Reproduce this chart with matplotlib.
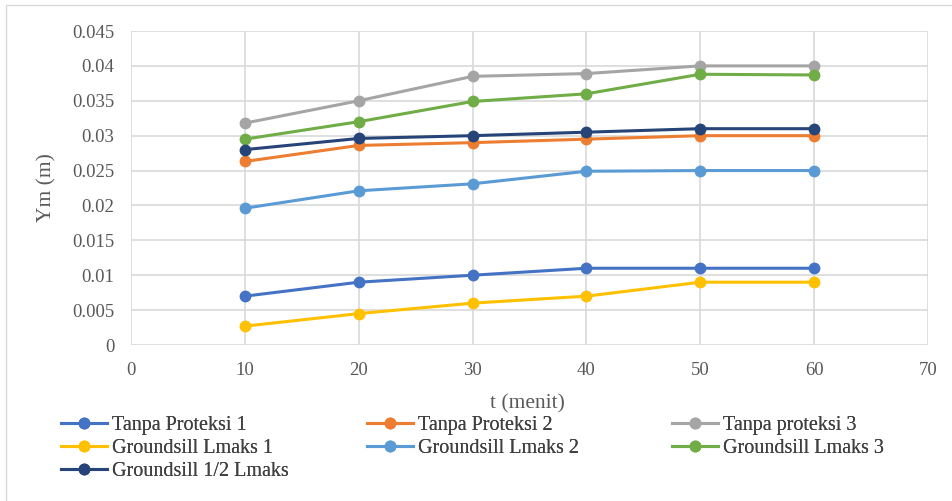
import matplotlib.pyplot as plt
from matplotlib.patches import Rectangle

t = [10, 20, 30, 40, 50, 60]

tanpa1 = [0.007, 0.009, 0.010, 0.011, 0.011, 0.011]
tanpa2 = [0.0263, 0.0286, 0.029, 0.0295, 0.030, 0.030]
tanpa3 = [0.0318, 0.035, 0.0385, 0.0389, 0.040, 0.040]
gs_lmaks1 = [0.0027, 0.0045, 0.006, 0.007, 0.009, 0.009]
gs_lmaks2 = [0.0196, 0.0221, 0.0231, 0.0249, 0.025, 0.025]
gs_lmaks3 = [0.0295, 0.032, 0.0349, 0.036, 0.0388, 0.0387]
gs_half = [0.028, 0.0296, 0.030, 0.0305, 0.031, 0.031]

names = ["Tanpa Proteksi 1", "Tanpa Proteksi 2", "Tanpa proteksi 3",
         "Groundsill Lmaks 1", "Groundsill Lmaks 2", "Groundsill Lmaks 3",
         "Groundsill 1/2 Lmaks"]
series = [tanpa1, tanpa2, tanpa3, gs_lmaks1, gs_lmaks2, gs_lmaks3, gs_half]
colors = ["#4472C4", "#ED7D31", "#A5A5A5", "#FFC000", "#5B9BD5", "#70AD47", "#264478"]

xticks = [0, 10, 20, 30, 40, 50, 60, 70]
yticks = [0, 0.005, 0.01, 0.015, 0.02, 0.025, 0.03, 0.035, 0.04, 0.045]

plt.rcParams['font.family'] = ['Liberation Serif', 'DejaVu Serif']

W, H = 952, 501
fig = plt.figure(figsize=(W/100, H/100), dpi=100)
# chart area border (cut off at right/bottom in the reference)
fig.patches.append(Rectangle((6/W, -0.1), 1.2, 1 - 5/H + 0.1, transform=fig.transFigure,
                             fill=False, edgecolor="#d9d9d9", lw=1))
ax = fig.add_axes([131/W, 1 - 345/H, 797/W, 314/H])

handles = {}
for name, ys, c in zip(names, series, colors):
    h, = ax.plot(t, ys, color=c, lw=2.2, marker='o', markersize=7.5, label=name, zorder=3)
    handles[name] = h

ax.set_xlim(0, 70)
ax.set_ylim(0, 0.045)
ax.set_xticks(xticks)
ax.set_yticks(yticks)
ax.set_yticklabels([f"{v:g}" for v in yticks])
ax.grid(True, color="#d9d9d9", lw=1.2, zorder=0)
ax.set_axisbelow(True)
for s in ax.spines.values():
    s.set_visible(False)
ax.tick_params(length=0, labelsize=13.5, colors="#595959")
ax.tick_params(axis='y', pad=12)
ax.tick_params(axis='x', pad=12)

fig.text(47/W, 1 - 188/H, "Ym (m)", rotation=90, ha='center', va='center',
         fontsize=15.5, color="#595959")
fig.text(527/W, 1 - 404/H, "t (menit)", ha='center', va='center',
         fontsize=15.5, color="#595959")

cols = [
    (["Tanpa Proteksi 1", "Groundsill Lmaks 1", "Groundsill 1/2 Lmaks"], 61),
    (["Tanpa Proteksi 2", "Groundsill Lmaks 2"], 367),
    (["Tanpa proteksi 3", "Groundsill Lmaks 3"], 672),
]
for labels, x0 in cols:
    leg = fig.legend([handles[n] for n in labels], labels, loc='upper left',
                     bbox_to_anchor=(x0/W, 1 - 416/H), frameon=False,
                     fontsize=14.5, borderpad=0, handlelength=2.3, handletextpad=0.25,
                     labelspacing=0.19, borderaxespad=0)
    for txt in leg.get_texts():
        txt.set_color("#404040")
    fig.add_artist(leg)

fig.savefig("out.png", dpi=100)
